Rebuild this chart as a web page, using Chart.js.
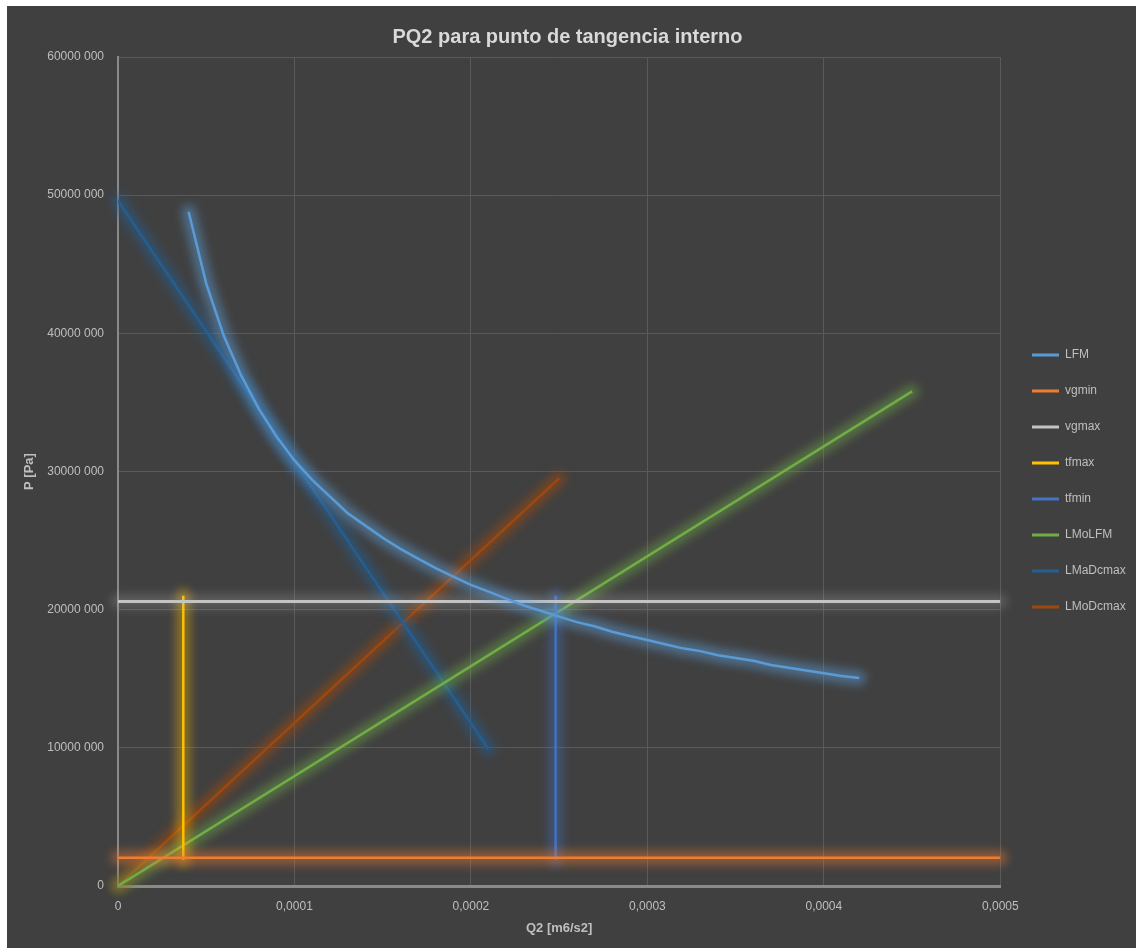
<!DOCTYPE html>
<html>
<head>
<meta charset="utf-8">
<title>PQ2 para punto de tangencia interno</title>
<script src="https://cdn.jsdelivr.net/npm/chart.js@4.4.1/dist/chart.umd.min.js"></script>
<style>
  html, body { margin: 0; padding: 0; background: #ffffff; }
  #wrap { position: absolute; left: 7px; top: 6px; width: 1129px; height: 942px; background: #404040; }
  canvas { display: block; }
</style>
</head>
<body>
<div id="wrap"><canvas id="chart" width="1129" height="942"></canvas></div>
<script>
// Series names, in legend order
const seriesNames = ['LFM', 'vgmin', 'vgmax', 'tfmax', 'tfmin', 'LMoLFM', 'LMaDcmax', 'LMoDcmax'];

// LFM curve: flow Q2 [m6/s2] against pressure P [Pa]
const lfmQ = [0.00004, 0.00005, 0.00006, 0.00007, 0.00008, 0.00009, 0.0001, 0.00011, 0.00012, 0.00013,
              0.00014, 0.00015, 0.00016, 0.00017, 0.00018, 0.00019, 0.0002, 0.00021, 0.00022, 0.00023,
              0.00024, 0.00025, 0.00026, 0.00027, 0.00028, 0.00029, 0.0003, 0.00031, 0.00032, 0.00033,
              0.00034, 0.00035, 0.00036, 0.00037, 0.00038, 0.00039, 0.0004, 0.00041, 0.00042];
const lfmP = [48800000, 43600000, 39800000, 36900000, 34500000, 32500000, 30800000, 29400000, 28200000, 27000000,
              26100000, 25200000, 24400000, 23700000, 23000000, 22400000, 21800000, 21300000, 20800000, 20300000,
              19900000, 19500000, 19100000, 18800000, 18400000, 18100000, 17800000, 17500000, 17200000, 17000000,
              16700000, 16500000, 16300000, 16000000, 15800000, 15600000, 15400000, 15200000, 15050000];

// Horizontal limits
const vgminQ = [0, 0.0005];
const vgminP = [2050000, 2050000];
const vgmaxQ = [0, 0.0005];
const vgmaxP = [20600000, 20600000];

// Vertical limits
const tfmaxQ = [0.000037, 0.000037];
const tfmaxP = [1900000, 21000000];
const tfminQ = [0.000248, 0.000248];
const tfminP = [1900000, 21000000];

// Straight lines
const lmolfmQ = [0, 0.00045];
const lmolfmP = [0, 35800000];
const lmadcmaxQ = [0, 0.00021];
const lmadcmaxP = [49600000, 9900000];
const lmodcmaxQ = [0, 0.00025];
const lmodcmaxP = [0, 29500000];

// Axis ranges and tick steps
const xTicks = [0, 0.0001, 0.0002, 0.0003, 0.0004, 0.0005];
const yTicks = [0, 10000000, 20000000, 30000000, 40000000, 50000000, 60000000];

const seriesQ = [lfmQ, vgminQ, vgmaxQ, tfmaxQ, tfminQ, lmolfmQ, lmadcmaxQ, lmodcmaxQ];
const seriesP = [lfmP, vgminP, vgmaxP, tfmaxP, tfminP, lmolfmP, lmadcmaxP, lmodcmaxP];
const seriesColors = ['#5b9bd5', '#ed7d31', '#c4c4c4', '#ffc000', '#4472c4', '#70ad47', '#255e91', '#9e480e'];
const glowColors = ['rgba(91,155,213,0.5)', 'rgba(237,125,49,0.45)', 'rgba(200,200,200,0.22)', 'rgba(255,192,0,0.4)',
                    'rgba(68,114,196,0.4)', 'rgba(112,173,71,0.45)', 'rgba(37,94,145,0.55)', 'rgba(158,72,14,0.55)'];

const FONT = "'Liberation Sans', Arial, sans-serif";
const TEXT = '#bfbfbf';

const datasets = seriesNames.map((name, i) => ({
  label: name,
  data: seriesQ[i].map((q, k) => ({ x: q, y: seriesP[i][k] })),
  borderColor: seriesColors[i],
  backgroundColor: seriesColors[i],
  glowColor: glowColors[i],
  borderWidth: i === 2 ? 3 : 2.5,
  showLine: true,
  pointRadius: 0,
  pointHoverRadius: 0,
  tension: 0,
  fill: false
}));

// Soft coloured halo around each line: the line element is stroked once
// more underneath, wide, translucent and blurred
const glowPlugin = {
  id: 'glow',
  beforeDatasetDraw(chart, args) {
    const ds = chart.data.datasets[args.index];
    const el = args.meta.dataset;
    if (!el) return;
    const ctx = chart.ctx;
    const saved = el.options;
    el.options = Object.assign({}, saved, { borderWidth: 14, borderColor: ds.glowColor, borderCapStyle: 'round' });
    ctx.save();
    ctx.filter = 'blur(5px)';
    el.draw(ctx, chart.chartArea);
    ctx.restore();
    el.options = saved;
  }
};

// Place the legend column beside the plot
const legendPlace = {
  id: 'legendPlace',
  afterLayout(chart) {
    const lg = chart.legend;
    if (!lg || !lg.columnSizes) return;
    const pad = lg.options.labels.padding;
    const dx = 1025 - (lg.left + pad);
    lg.left += dx; lg.right += dx;
    const curY = (lg.top + pad + lg.bottom - lg.columnSizes[0].height) / 2;
    const dy = 343 - curY;
    lg.top += dy; lg.bottom += dy;
  }
};

function fmtP(v) {
  if (v === 0) return '0';
  const hi = Math.floor(v / 1000);
  const lo = String(Math.round(v % 1000)).padStart(3, '0');
  return hi + ' ' + lo;
}
function fmtQ(v) {
  if (Math.abs(v) < 1e-12) return '0';
  return v.toFixed(4).replace('.', ',');
}

new Chart(document.getElementById('chart'), {
  type: 'scatter',
  data: { datasets },
  plugins: [glowPlugin, legendPlace],
  options: {
    responsive: false,
    animation: false,
    devicePixelRatio: 1,
    layout: { padding: { left: 0, right: 8, top: 0, bottom: 0 } },
    plugins: {
      tooltip: { enabled: false },
      title: {
        display: true,
        text: 'PQ2 para punto de tangencia interno',
        color: '#d9d9d9',
        font: { family: FONT, size: 20, weight: 'bold' },
        padding: { top: 19, bottom: 8 }
      },
      legend: {
        position: 'right',
        align: 'center',
        labels: {
          color: TEXT,
          font: { family: FONT, size: 12 },
          boxWidth: 27,
          boxHeight: 3,
          padding: 24,
          generateLabels(chart) {
            return Chart.defaults.plugins.legend.labels.generateLabels(chart)
              .map(l => Object.assign({}, l, { fillStyle: l.strokeStyle, lineWidth: 0 }));
          }
        }
      }
    },
    scales: {
      x: {
        type: 'linear',
        min: xTicks[0],
        max: xTicks[xTicks.length - 1],
        afterBuildTicks(scale) { scale.ticks = xTicks.map(v => ({ value: v })); },
        afterFit(scale) { scale.height = 62; },
        grid: { color: '#5a5a5a', lineWidth: 1, drawTicks: false },
        border: { color: '#8a8a8a', width: 3 },
        ticks: {
          color: TEXT, font: { family: FONT, size: 12 }, padding: 13,
          maxRotation: 0, callback: v => fmtQ(v)
        },
        title: {
          display: true, text: 'Q2 [m6/s2]', color: TEXT,
          font: { family: FONT, size: 13, weight: 'bold' },
          padding: { top: 0, bottom: 12 }
        }
      },
      y: {
        type: 'linear',
        min: yTicks[0],
        max: yTicks[yTicks.length - 1],
        afterBuildTicks(scale) { scale.ticks = yTicks.map(v => ({ value: v })); },
        afterFit(scale) { scale.width = 111; },
        grid: { color: '#5a5a5a', lineWidth: 1, drawTicks: false },
        border: { color: '#8a8a8a', width: 2 },
        ticks: {
          color: TEXT, font: { family: FONT, size: 12 }, padding: 14,
          callback: v => fmtP(v)
        },
        title: {
          display: true, text: 'P [Pa]', color: TEXT,
          font: { family: FONT, size: 13, weight: 'bold' },
          padding: { top: 15, bottom: 0 }
        }
      }
    }
  }
});
</script>
</body>
</html>
